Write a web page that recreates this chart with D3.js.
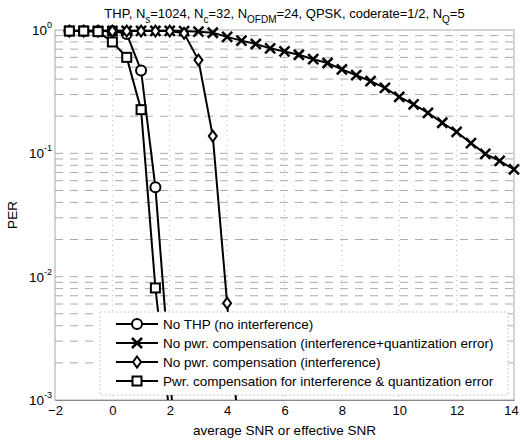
<!DOCTYPE html>
<html><head><meta charset="utf-8">
<script src="https://cdn.jsdelivr.net/npm/d3@7"></script>
<style>body{margin:0;background:#fff}svg{display:block}text{font-family:"Liberation Sans",Arial,sans-serif;fill:#000}</style>
</head><body><svg id="c" width="520" height="441"></svg>
<script>
const snr = [-1.5,-1,-0.5,0,0.5,1,1.5,2,2.5,3,3.5,4,4.5,5,5.5,6,6.5,7,7.5,8,8.5,9,9.5,10,10.5,11,11.5,12,12.5,13,13.5,14];
const noTHP = [0.98,0.98,0.98,0.98,0.93,0.47,0.053,0.0017,0.00005];
const noCompQ = [0.985,0.985,0.985,0.985,0.985,0.985,0.985,0.985,0.98,0.97,0.95,0.88,0.82,0.77,0.71,0.67,0.63,0.58,0.54,0.48,0.43,0.385,0.34,0.287,0.249,0.213,0.177,0.149,0.121,0.099,0.087,0.074];
const noCompI = [0.98,0.98,0.98,0.98,0.98,0.98,0.98,0.98,0.94,0.57,0.138,0.0061,0.00033];
const pwrComp = [0.98,0.98,0.97,0.80,0.60,0.226,0.0081,0.00074];
const seriesNames = ["No THP (no interference)","No pwr. compensation (interference+quantization error)","No pwr. compensation (interference)","Pwr. compensation for interference & quantization error"];
const seriesMarkers = ["circle","cross","diamond","square"];
const xTicks = [-2,0,2,4,6,8,10,12,14];
const yTicks = [1e-3,1e-2,1e-1,1];
const yTickExp = ["-3","-2","-1","0"];

const svg = d3.select("#c");
const L=55,R=514,T=30,B=400;
const x = d3.scaleLinear().domain([-2,14]).range([L,R]);
const y = d3.scaleLog().domain([1e-3,1]).range([B,T]);

// grid
const minor=[];
for(let e=-3;e<0;e++) for(let m=1;m<10;m++) minor.push(m*Math.pow(10,e));
svg.append("g").selectAll("line").data(minor.filter(v=>v>1e-3)).join("line")
  .attr("x1",L).attr("x2",R).attr("y1",d=>y(d)).attr("y2",d=>y(d))
  .attr("stroke","#aaa").attr("stroke-width",1).attr("stroke-dasharray","8,7");
svg.append("g").selectAll("line").data(xTicks.slice(1,-1)).join("line")
  .attr("x1",d=>x(d)).attr("x2",d=>x(d)).attr("y1",T).attr("y2",B)
  .attr("stroke","#bbb").attr("stroke-width",1).attr("stroke-dasharray","1,4");
// box
svg.append("rect").attr("x",L).attr("y",T).attr("width",R-L).attr("height",B-T)
  .attr("fill","none").attr("stroke","#aaa").attr("stroke-width",1);

// axes labels
const xa = svg.append("g").attr("transform",`translate(0,${B})`)
  .call(d3.axisBottom(x).tickValues(xTicks).tickSize(0).tickPadding(6).tickFormat(d3.format("d")));
xa.select(".domain").attr("stroke","#888");
xa.selectAll("text").attr("font-size",13).style("font-family","Liberation Sans,Arial,sans-serif")
  .attr("dx",d=>d===14?-3:0);

const ya = svg.append("g").selectAll("text").data(yTicks).join("text")
  .attr("x",52).attr("y",d=>y(d)+5).attr("text-anchor","end").attr("font-size",13.5);
ya.append("tspan").text("10");
ya.append("tspan").attr("dy",-7).attr("font-size",9).text((d,i)=>yTickExp[i]);

svg.append("text").attr("x",(L+R)/2).attr("y",435).attr("text-anchor","middle").attr("font-size",13.5).text("average SNR or effective SNR");
svg.append("text").attr("transform","translate(17,215) rotate(-90)").attr("text-anchor","middle").attr("font-size",13.5).text("PER");

// title
const t = svg.append("text").attr("x",(L+R)/2).attr("y",18).attr("text-anchor","middle").attr("font-size",13);
const parts=[["THP, N",0],["s",1],["=1024, N",0],["c",1],["=32, N",0],["OFDM",1],["=24, QPSK, coderate=1/2, N",0],["Q",1],["=5",0]];
let prev=0;
parts.forEach(([s,sub])=>{const dy=sub?5:(prev?-5:0); t.append("tspan").attr("dy",dy).attr("font-size",sub?10:13).text(s); prev=sub;});

// clip
svg.append("clipPath").attr("id","cp").append("rect").attr("x",0).attr("y",0).attr("width",520).attr("height",B);
const plot = svg.append("g").attr("clip-path","url(#cp)");

function marker(g,type){
  if(type==="circle") g.append("circle").attr("r",5).attr("fill","#fff").attr("stroke","#000").attr("stroke-width",2);
  else if(type==="square") g.append("rect").attr("x",-4.5).attr("y",-4.5).attr("width",9).attr("height",9).attr("fill","#fff").attr("stroke","#000").attr("stroke-width",2);
  else if(type==="diamond") g.append("path").attr("d","M0,-5.5L4,0L0,5.5L-4,0Z").attr("fill","#fff").attr("stroke","#000").attr("stroke-width",2);
  else g.append("path").attr("d","M-5,-5L5,5M-5,5L5,-5").attr("stroke","#000").attr("stroke-width",2.5);
}

const allData=[noTHP,noCompQ,noCompI,pwrComp];
const line = d3.line().x(d=>x(d[0])).y(d=>y(d[1]));
allData.forEach((vals,i)=>{
  const pts = vals.map((v,j)=>[snr[j],v]);
  plot.append("path").datum(pts).attr("d",line).attr("fill","none").attr("stroke","#000").attr("stroke-width",2);
});
allData.forEach((vals,i)=>{
  const pts = vals.map((v,j)=>[snr[j],v]).filter(p=>p[1]>=1e-3);
  plot.selectAll(null).data(pts).join("g").attr("transform",d=>`translate(${x(d[0])},${y(d[1])})`).each(function(){marker(d3.select(this),seriesMarkers[i]);});
});

// legend
const lg = svg.append("g");
lg.append("rect").attr("x",100).attr("y",312).attr("width",408).attr("height",83).attr("fill","#fff").attr("stroke","#ccc").attr("stroke-width",1).attr("stroke-dasharray","2,2");
seriesNames.forEach((n,i)=>{
  const yy=324+i*19;
  lg.append("line").attr("x1",116).attr("x2",158).attr("y1",yy).attr("y2",yy).attr("stroke","#000").attr("stroke-width",2);
  marker(lg.append("g").attr("transform",`translate(137,${yy})`),seriesMarkers[i]);
  lg.append("text").attr("x",163).attr("y",yy+5).attr("font-size",13.5).text(n);
});
</script></body></html>
